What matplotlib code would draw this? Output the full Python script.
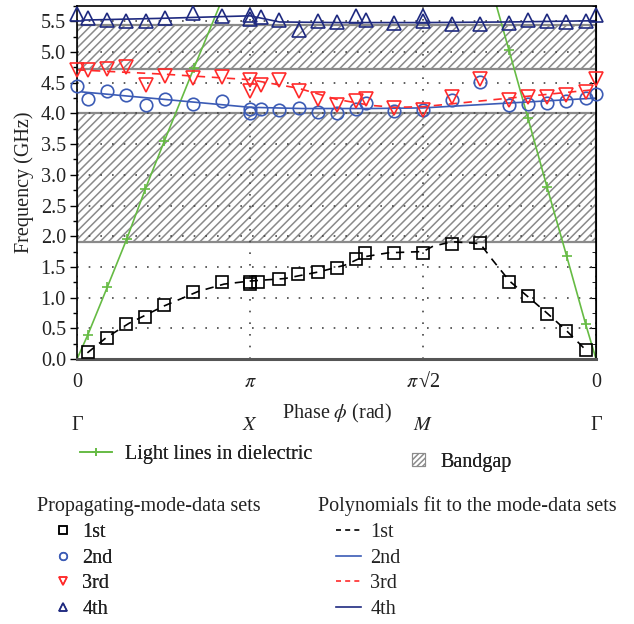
import matplotlib
matplotlib.use('Agg')
import matplotlib.pyplot as plt
from matplotlib.lines import Line2D
from matplotlib.patches import Patch
from matplotlib.ticker import MultipleLocator, FormatStrFormatter

plt.rcParams['font.family'] = ['Liberation Serif', 'DejaVu Serif']
plt.rcParams['mathtext.fontset'] = 'stix'
plt.rcParams['hatch.linewidth'] = 1.1
plt.rcParams['hatch.color'] = '#858585'

# x is measured along the path: Gamma=0, X=1, M=2, Gamma=3
tick_pos = [0, 1, 2, 3]
tick_phase = ['0', r'$\pi$', r'$\pi\,$√2', '0']
tick_sym = ['Γ', '$X$', '$M$', 'Γ']

# band gaps (GHz)
gaps = [(1.9, 4.0), (4.72, 5.44)]

# light lines
light_l_x = [0.0, 0.062, 0.175, 0.287, 0.395, 0.505, 0.676, 0.86]
light_l_y = [0.0, 0.39, 1.17, 1.95, 2.77, 3.55, 4.74, 6.0]
light_r_x = [2.40, 2.497, 2.607, 2.717, 2.83, 2.94, 3.0]
light_r_y = [6.0, 5.03, 3.92, 2.80, 1.68, 0.57, 0.0]

# mode data
m1_x = [0.062, 0.175, 0.285, 0.395, 0.505, 0.672, 0.836, 1.0, 1.0, 1.045, 1.169, 1.279,
        1.391, 1.501, 1.611, 1.666, 1.832, 1.998, 2.166, 2.329, 2.497, 2.607, 2.717, 2.828, 2.94]
m1_y = [0.11, 0.35, 0.57, 0.69, 0.88, 1.09, 1.26, 1.26, 1.22, 1.25, 1.30, 1.38,
        1.42, 1.48, 1.63, 1.73, 1.73, 1.73, 1.87, 1.89, 1.26, 1.02, 0.73, 0.45, 0.15]

m2_x = [0.0, 0.065, 0.175, 0.285, 0.397, 0.507, 0.672, 0.838, 1.0, 1.0, 1.062, 1.169, 1.281,
        1.391, 1.501, 1.611, 1.669, 1.832, 2.0, 2.166, 2.329, 2.497, 2.607, 2.717, 2.828, 2.94, 3.0]
m2_y = [4.45, 4.24, 4.36, 4.30, 4.14, 4.23, 4.15, 4.21, 4.01, 4.08, 4.08, 4.06, 4.09,
        4.02, 4.00, 4.08, 4.17, 4.04, 4.06, 4.22, 4.51, 4.14, 4.16, 4.17, 4.20, 4.25, 4.31]

m3_x = m2_x
m3_y = [4.70, 4.70, 4.72, 4.76, 4.46, 4.61, 4.58, 4.60, 4.54, 4.37, 4.46, 4.54, 4.37,
        4.23, 4.13, 4.20, 4.24, 4.09, 4.06, 4.27, 4.56, 4.22, 4.26, 4.27, 4.30, 4.35, 4.56]

m4_x = [0.0, 0.065, 0.175, 0.285, 0.397, 0.507, 0.672, 0.838, 1.0, 1.0, 1.062, 1.169, 1.281,
        1.391, 1.501, 1.611, 1.669, 1.832, 2.0, 2.0, 2.166, 2.329, 2.497, 2.607, 2.717, 2.828, 2.94, 3.0]
m4_y = [5.62, 5.55, 5.52, 5.51, 5.51, 5.56, 5.63, 5.59, 5.60, 5.54, 5.57, 5.52, 5.36,
        5.51, 5.49, 5.59, 5.53, 5.47, 5.59, 5.51, 5.45, 5.45, 5.48, 5.52, 5.51, 5.49, 5.51, 5.60]

# polynomial fits
f1_x = [0.06, 0.17, 0.3, 0.5, 0.7, 0.85, 1.0, 1.2, 1.4, 1.55, 1.65, 1.8, 2.0, 2.06, 2.17,
        2.33, 2.4, 2.5, 2.6, 2.72, 2.83, 2.94]
f1_y = [0.10, 0.35, 0.58, 0.86, 1.10, 1.22, 1.27, 1.31, 1.42, 1.53, 1.66, 1.73, 1.75, 1.84, 1.91,
        1.88, 1.62, 1.27, 1.03, 0.74, 0.46, 0.15]
f2_x = [0.03, 0.5, 1.0, 1.3, 1.7, 2.0, 2.5, 3.0]
f2_y = [4.35, 4.23, 4.10, 4.08, 4.08, 4.09, 4.17, 4.25]
f3_x = [0.0, 0.5, 1.0, 1.28, 1.5, 1.7, 1.85, 2.0, 2.5, 3.0]
f3_y = [4.71, 4.64, 4.55, 4.41, 4.23, 4.13, 4.10, 4.11, 4.25, 4.39]
f4_x = [0.03, 0.5, 1.0, 1.17, 1.5, 2.0, 2.5, 3.0]
f4_y = [5.52, 5.55, 5.59, 5.49, 5.48, 5.48, 5.49, 5.51]

green = '#66bb44'
c1 = 'black'
c2 = '#3b5bb5'
c3 = '#ff2a2a'
c4 = '#1f2a80'
txt = '#222222'
fs = 14.5

fig = plt.figure(figsize=(6.34, 6.24), dpi=100)
ax = fig.add_axes([77/634, 1-359/624, 519/634, 353/624])

for lo, hi in gaps:
    ax.axhspan(lo, hi, facecolor='white', edgecolor='#8a8a8a', hatch='////', lw=1.6, zorder=0.3)

ax.set_axisbelow(True)
ax.grid(True, which='major', color='#444444', lw=1.2, ls=(0, (1, 6)))

ax.plot(light_l_x, light_l_y, color=green, lw=1.2, marker='+', ms=7, mew=1.2)
ax.plot(light_r_x, light_r_y, color=green, lw=1.2, marker='+', ms=7, mew=1.2)

ax.plot(f1_x, f1_y, color=c1, lw=1.2, ls=(0, (5, 4)))
ax.plot(f2_x, f2_y, color=c2, lw=1.2)
ax.plot(f3_x, f3_y, color=c3, lw=1.2, ls=(0, (5, 4)))
ax.plot(f4_x, f4_y, color=c4, lw=1.2)

mk = dict(ls='none', mfc='none', mew=1.2, clip_on=False, zorder=3)
ax.plot(m1_x, m1_y, marker='s', ms=9, mec=c1, **mk)
ax.plot(m2_x, m2_y, marker='o', ms=9, mec=c2, **mk)
ax.plot(m3_x, m3_y, marker='v', ms=9.5, mec=c3, **mk)
ax.plot(m4_x, m4_y, marker='^', ms=9.5, mec=c4, **mk)

ax.set_xlim(0, 3)
ax.set_ylim(0, 5.75)
ax.set_xticks(tick_pos)
ax.set_xticklabels(tick_phase)
ax.tick_params(axis='x', length=0, pad=10, labelsize=fs, labelcolor=txt)
ax.yaxis.set_major_locator(MultipleLocator(0.5))
ax.yaxis.set_minor_locator(MultipleLocator(0.25))
ax.yaxis.set_major_formatter(FormatStrFormatter('%.1f'))
ax.tick_params(axis='y', which='major', length=5, width=1, direction='out', pad=3,
               labelsize=fs, labelcolor=txt)
ax.tick_params(axis='y', which='minor', length=3, width=1, direction='out')

sec_y = ax.secondary_yaxis('right')
sec_y.yaxis.set_major_locator(MultipleLocator(0.5))
sec_y.yaxis.set_minor_locator(MultipleLocator(0.25))
sec_y.tick_params(which='major', direction='in', length=5, labelright=False)
sec_y.tick_params(which='minor', direction='in', length=3)

sec_x = ax.secondary_xaxis('bottom')
sec_x.set_xticks(tick_pos)
sec_x.set_xticklabels(tick_sym)
sec_x.tick_params(length=0, pad=41, labelsize=fs, labelcolor=txt)
sec_x.spines['bottom'].set_visible(False)

for s in ['left', 'right', 'top']:
    ax.spines[s].set_linewidth(1.2)
ax.spines['bottom'].set_linewidth(2.2)
ax.spines['bottom'].set_color('#555555')

ax.set_xlabel(r'Phase $\phi$ (rad)', fontsize=fs, color=txt, labelpad=7)
ax.set_ylabel('Frequency (GHz)', fontsize=fs, color=txt, labelpad=5)

# legends below the axes
leg_kw = dict(frameon=False, borderpad=0, borderaxespad=0, fontsize=fs, labelcolor=txt)
lg = fig.legend(handles=[Line2D([], [], color=green, lw=1.2, marker='+', ms=6, mew=1.2)],
                labels=['Light lines in dielectric'], loc='center left',
                bbox_to_anchor=(80/634, 1-454/624), handlelength=1.6, handletextpad=0.65,
                numpoints=1, **leg_kw)
fig.add_artist(lg)
lg = fig.legend(handles=[Patch(facecolor='white', edgecolor='#8c8c8c', hatch='//////', lw=0.8)],
                labels=['Bandgap'], loc='center left', bbox_to_anchor=(412/634, 1-462/624),
                handlelength=0.65, handleheight=0.65, handletextpad=0.75, **leg_kw)
fig.add_artist(lg)

fig.text(37/634, 1-506/624, 'Propagating-mode-data sets', fontsize=fs, color=txt, va='center')
fig.text(318/634, 1-506/624, 'Polynomials fit to the mode-data sets', fontsize=fs, color=txt,
         va='center')

mode_labels = ['1st', '2nd', '3rd', '4th']
mk_handles = [Line2D([], [], ls='none', marker=m, ms=5.5, mfc='none', mew=1.1, mec=c)
              for m, c in zip(['s', 'o', 'v', '^'], [c1, c2, c3, c4])]
lg = fig.legend(handles=mk_handles, labels=mode_labels, loc='upper left',
                bbox_to_anchor=(53/634, 1-523/624), handlelength=1.0, handletextpad=0.45,
                labelspacing=0.32, numpoints=1, **leg_kw)
fig.add_artist(lg)
ln_handles = [Line2D([], [], color=c1, lw=1.2, ls=(0, (3, 2.5))),
              Line2D([], [], color=c2, lw=1.2),
              Line2D([], [], color=c3, lw=1.2, ls=(0, (3, 2.5))),
              Line2D([], [], color=c4, lw=1.2)]
fig.legend(handles=ln_handles, labels=mode_labels, loc='upper left',
           bbox_to_anchor=(336/634, 1-523/624), handlelength=1.25, handletextpad=0.45,
           labelspacing=0.32, **leg_kw)

fig.savefig('out.png', dpi=100)
